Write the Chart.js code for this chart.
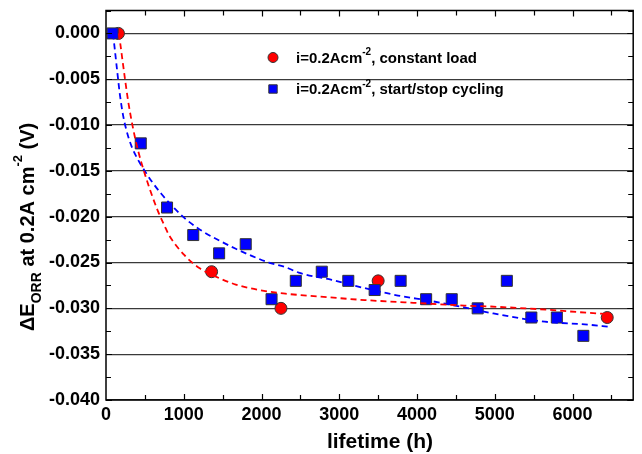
<!DOCTYPE html>
<html><head><meta charset="utf-8">
<script src="https://cdn.jsdelivr.net/npm/chart.js@4.4.0/dist/chart.umd.min.js"></script>
<style>html,body{margin:0;padding:0;background:#fff;}</style>
</head><body>
<canvas id="c" width="642" height="454" style="width:642px;height:454px;display:block"></canvas>
<script>
// ---- data ----
const constHours  = [160, 1358, 2250, 3500, 6446];
const constDeltaE = [0.000, -0.026, -0.030, -0.027, -0.031];

const cycleHours  = [85, 447, 785, 1122, 1455, 1797, 2129, 2441, 2775, 3116, 3455, 3789, 4117, 4446, 4780, 5155, 5470, 5798, 6139];
const cycleDeltaE = [0.000, -0.012, -0.019, -0.022, -0.024, -0.023, -0.029, -0.027, -0.026, -0.027, -0.028, -0.027, -0.029, -0.029, -0.030, -0.027, -0.031, -0.031, -0.033];

const constFitHours  = [165, 185, 210, 243, 285, 349, 413, 498, 584, 668, 753, 817, 1009, 1200, 1456, 1669, 1967, 2308, 2733, 3329, 3755, 4180, 4607, 4946, 5585, 6223, 6420];
const constFitDeltaE = [0.0000, -0.0012, -0.0028, -0.0049, -0.0074, -0.0104, -0.0128, -0.0153, -0.0175, -0.0194, -0.0210, -0.0221, -0.0242, -0.0256, -0.0267, -0.0274, -0.0280, -0.0284, -0.0287, -0.0291, -0.0293, -0.0295, -0.0297, -0.0298, -0.0301, -0.0305, -0.0306];

const cycleFitHours  = [90, 110, 149, 179, 221, 264, 328, 413, 498, 584, 711, 881, 1031, 1243, 1456, 1669, 1881, 2094, 2308, 2478, 2903, 3329, 3755, 4180, 4607, 4946, 5585, 6223, 6458];
const cycleFitDeltaE = [0.0000, -0.0015, -0.0045, -0.0067, -0.0090, -0.0106, -0.0123, -0.0138, -0.0150, -0.0161, -0.0175, -0.0191, -0.0203, -0.0216, -0.0226, -0.0235, -0.0243, -0.0250, -0.0255, -0.0261, -0.0269, -0.0278, -0.0286, -0.0292, -0.0299, -0.0305, -0.0314, -0.0318, -0.0320];

const xTickValues = [0, 1000, 2000, 3000, 4000, 5000, 6000];
const xTickLabels = ['0', '1000', '2000', '3000', '4000', '5000', '6000'];
const yTickValues = [0, -0.005, -0.010, -0.015, -0.020, -0.025, -0.030, -0.035, -0.040];
const yTickLabels = ['0.000', '-0.005', '-0.010', '-0.015', '-0.020', '-0.025', '-0.030', '-0.035', '-0.040'];

const legendLabels = [
  {main: 'i=0.2Acm', sup: '-2', rest: ', constant load'},
  {main: 'i=0.2Acm', sup: '-2', rest: ', start/stop cycling'}
];
const xTitle = 'lifetime (h)';

// ---- helpers ----
const FONT = '"Liberation Sans", Arial, Helvetica, sans-serif';
const RED = '#ff0000', BLUE = '#0000ff';
const pts = (xs, ys) => xs.map((x, i) => ({x, y: ys[i]}));

function drawParts(ctx, parts, x, y) {
  let cx = x;
  for (const p of parts) {
    ctx.font = 'bold ' + p.size + 'px ' + FONT;
    ctx.fillText(p.t, cx, y + (p.dy || 0));
    cx += ctx.measureText(p.t).width;
  }
}

const decorPlugin = {
  id: 'decor',
  afterDraw(chart) {
    const {ctx, chartArea: a, scales: {x, y}} = chart;
    ctx.save();
    // frame
    ctx.strokeStyle = '#000';
    ctx.lineWidth = 1.5;
    ctx.strokeRect(a.left, a.top, a.right - a.left, a.bottom - a.top);
    // inward ticks on all four sides
    ctx.lineWidth = 1.2;
    ctx.beginPath();
    for (let v = 500; v <= x.max; v += 500) {
      const px = Math.round(x.getPixelForValue(v)) + 0.5;
      const len = (v % 1000 === 0) ? 6 : 5;
      ctx.moveTo(px, a.bottom); ctx.lineTo(px, a.bottom - len);
      ctx.moveTo(px, a.top); ctx.lineTo(px, a.top + len);
    }
    for (let k = 0; k <= 17; k++) {
      const v = -0.04 + k * 0.0025;
      const py = Math.round(y.getPixelForValue(v)) + 0.5;
      const len = (k % 2 === 0) ? 6 : 5;
      ctx.moveTo(a.left, py); ctx.lineTo(a.left + len, py);
      ctx.moveTo(a.right, py); ctx.lineTo(a.right - len, py);
    }
    ctx.stroke();

    ctx.fillStyle = '#000';
    ctx.textBaseline = 'alphabetic';
    // x title
    ctx.font = 'bold 21px ' + FONT;
    ctx.textAlign = 'center';
    ctx.fillText(xTitle, 380, 448);
    ctx.textAlign = 'left';

    // y title (rotated)
    ctx.save();
    ctx.translate(34, 331);
    ctx.rotate(-Math.PI / 2);
    drawParts(ctx, [
      {t: '\u0394E', size: 20},
      {t: 'ORR', size: 14, dy: 7},
      {t: ' at 0.2A cm', size: 20},
      {t: '-2', size: 13, dy: -12},
      {t: ' (V)', size: 20}
    ], 0, 0);
    ctx.restore();

    // legend
    const lx = 273, ly = [57.5, 89];
    ctx.fillStyle = RED; ctx.strokeStyle = '#333'; ctx.lineWidth = 1;
    ctx.beginPath(); ctx.arc(lx, ly[0], 5, 0, Math.PI * 2); ctx.fill(); ctx.stroke();
    ctx.fillStyle = BLUE;
    ctx.beginPath(); ctx.rect(lx - 4.2, ly[1] - 4.2, 8.4, 8.4); ctx.fill(); ctx.stroke();
    ctx.fillStyle = '#000';
    ctx.textBaseline = 'middle';
    legendLabels.forEach((l, i) => {
      drawParts(ctx, [
        {t: l.main, size: 15},
        {t: l.sup, size: 10, dy: -6},
        {t: l.rest, size: 15}
      ], 296, ly[i] + 1);
    });
    ctx.restore();
  }
};

new Chart(document.getElementById('c'), {
  type: 'scatter',
  data: {
    datasets: [
      {
        label: 'constant load fit',
        data: pts(constFitHours, constFitDeltaE),
        showLine: true, pointRadius: 0, borderColor: RED, borderWidth: 1.8,
        borderDash: [6, 4], cubicInterpolationMode: 'monotone', fill: false
      },
      {
        label: 'start/stop fit',
        data: pts(cycleFitHours, cycleFitDeltaE),
        showLine: true, pointRadius: 0, borderColor: BLUE, borderWidth: 1.8,
        borderDash: [6, 4], cubicInterpolationMode: 'monotone', fill: false
      },
      {
        label: 'i=0.2Acm-2, start/stop cycling',
        data: pts(cycleHours, cycleDeltaE),
        pointStyle: 'rect', pointRadius: 7.8, pointHoverRadius: 7.8,
        backgroundColor: BLUE, borderColor: '#333', borderWidth: 1
      },
      {
        label: 'i=0.2Acm-2, constant load',
        data: pts(constHours, constDeltaE),
        pointStyle: 'circle', pointRadius: 6, pointHoverRadius: 6,
        backgroundColor: RED, borderColor: '#333', borderWidth: 1
      }
    ]
  },
  options: {
    responsive: false,
    animation: false,
    devicePixelRatio: 1,
    layout: {padding: {top: 10.5, right: 5, left: 0, bottom: 0}},
    plugins: {legend: {display: false}, tooltip: {enabled: false}, title: {display: false}},
    scales: {
      x: {
        type: 'linear', min: 0, max: 6780,
        afterBuildTicks: s => { s.ticks = xTickValues.map(v => ({value: v})); },
        afterFit: s => { s.height = 54; s.paddingLeft = 0; s.paddingRight = 0; },
        grid: {display: false, drawTicks: false},
        border: {display: false},
        ticks: {
          padding: 4, color: '#000',
          font: {family: FONT, size: 18, weight: 'bold'},
          maxRotation: 0, minRotation: 0, autoSkip: false,
          callback: (v, i) => xTickLabels[i]
        }
      },
      y: {
        type: 'linear', min: -0.04, max: 0.0025,
        afterBuildTicks: s => { s.ticks = yTickValues.map(v => ({value: v})); },
        afterFit: s => { s.width = 106; s.paddingTop = 0; s.paddingBottom = 0; },
        grid: {display: true, drawTicks: false, color: '#3a3a3a', lineWidth: 1.2},
        border: {display: false},
        ticks: {
          padding: 6, color: '#000',
          font: {family: FONT, size: 18, weight: 'bold'},
          autoSkip: false,
          callback: (v, i) => yTickLabels[i]
        }
      }
    }
  },
  plugins: [decorPlugin]
});
</script>
</body></html>
